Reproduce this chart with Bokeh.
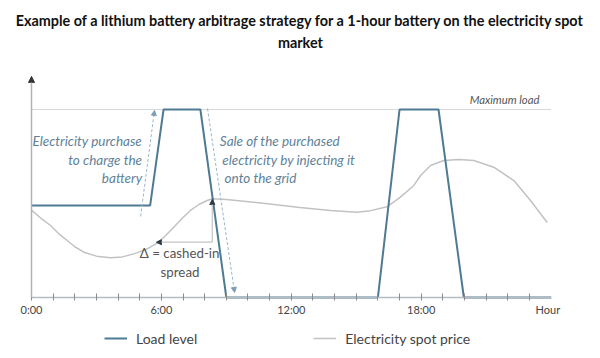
from bokeh.plotting import figure
from bokeh.models import (ColumnDataSource, FixedTicker, Label, Arrow, NormalHead,
                          Legend, LegendItem)
from bokeh.embed import file_html
from bokeh.resources import INLINE

# ---------------- data ----------------
load_hours = [0, 5.48, 6.1, 7.8, 9.0, 16.0, 17.0, 18.8, 19.97, 24]
load_level = [49, 49, 100, 100, 0, 0, 100, 100, 0, 0]

price_hours = [0, 0.45, 0.88, 1.25, 1.65, 2.0, 2.42, 3.0, 3.65, 4.2, 4.73, 5.3, 5.81,
               6.2, 6.57, 6.95, 7.34, 7.75, 8.11, 8.35, 9.0, 10.5, 12.4, 13.8, 15.04,
               15.66, 16.43, 17.04, 17.66, 17.97, 18.43, 19.04, 19.74, 20.43, 21.35,
               22.28, 23.05, 23.82]
price_value = [46.5, 42.0, 38.3, 34.0, 30.3, 27.0, 24.1, 22.0, 21.1, 21.6, 23.2, 25.6, 28.9,
               33.0, 37.4, 42.0, 46.3, 49.6, 51.6, 52.5, 52.1, 50.4, 47.9, 46.3, 45.4,
               46.2, 48.3, 53.4, 59.6, 64.9, 70.2, 72.9, 73.4, 72.9, 69.3,
               62.2, 51.6, 39.9]

max_load = 100
hour_ticks = list(range(0, 24))
label_ticks = [0, 6, 12, 18, 23.85]
label_texts = {0: "0:00", 6: "6:00", 12: "12:00", 18: "18:00", 23.85: "Hour"}

title_lines = ["Example of a lithium battery arbitrage strategy for a 1-hour battery on the electricity spot",
               "market"]

LOAD_C = "#4e7a94"
PRICE_C = "#c2c2c2"
ANN_C = "#5f8299"
DASH_C = "#9bb6c8"
TXT_C = "#444444"

p = figure(frame_width=600, frame_height=358, x_range=(-1.4319, 26.282),
           y_range=(-32.45, 157.98),
           min_border_left=0, min_border_right=0, min_border_top=0, min_border_bottom=0,
           output_backend="svg", toolbar_location=None)
p.outline_line_color = None
p.grid.visible = False
p.yaxis.visible = False
p.background_fill_color = "white"
p.border_fill_color = "white"

xa = p.xaxis[0]
xa.fixed_location = 0
xa.bounds = (0, 24)
xa.ticker = FixedTicker(ticks=label_ticks, minor_ticks=hour_ticks)
xa.major_label_overrides = label_texts
xa.axis_line_color = "#b4bcc2"
xa.axis_line_width = 1.5
xa.major_tick_line_color = None
xa.major_tick_in = 0
xa.major_tick_out = 0
xa.minor_tick_line_color = "#8a8a8a"
xa.minor_tick_in = 4
xa.minor_tick_out = 3
xa.major_label_standoff = 3
xa.major_label_text_font = "Lato"
xa.major_label_text_font_size = "11px"
xa.major_label_text_color = TXT_C

# max load dotted line
p.line(x=[0, 24], y=[max_load, max_load], line_color="#a9b1b7", line_dash="1 1", line_width=1)

# y axis line with arrow
p.add_layout(Arrow(x_start=0, y_start=0, x_end=0, y_end=117.6, line_color="#aab3b9",
                   line_width=1.5, end=NormalHead(size=6, fill_color="#333333",
                                                   line_color="#333333")))

price_src = ColumnDataSource(dict(x=price_hours, y=price_value))
load_src = ColumnDataSource(dict(x=load_hours, y=load_level))
r_price = p.line("x", "y", source=price_src, line_color=PRICE_C, line_width=1.5)
r_load = p.line("x", "y", source=load_src, line_color=LOAD_C, line_width=2)

# dashed arrows (charge / discharge)
p.add_layout(Arrow(x_start=5.04, y_start=43.1, x_end=5.68, y_end=99.5, line_color=DASH_C,
                   line_dash="3 2", line_width=1,
                   end=NormalHead(size=5, fill_color="#7e9fb3", line_color="#7e9fb3")))
p.add_layout(Arrow(x_start=8.13, y_start=100.5, x_end=9.38, y_end=2.7, line_color=DASH_C,
                   line_dash="3 2", line_width=1,
                   end=NormalHead(size=5, fill_color="#7e9fb3", line_color="#7e9fb3")))

# spread bracket
p.add_layout(Arrow(x_start=8.35, y_start=29.4, x_end=8.35, y_end=52.1, line_color="#c4c4c4",
                   line_width=1.2, end=NormalHead(size=5, fill_color="#2b3a44",
                                                  line_color="#2b3a44")))
p.add_layout(Arrow(x_start=8.35, y_start=29.4, x_end=5.77, y_end=29.4, line_color="#c4c4c4",
                   line_width=1.2, end=NormalHead(size=5, fill_color="#2b3a44",
                                                  line_color="#2b3a44")))

def lab(x, y, t, size="13.5px", style="italic", color=ANN_C, align="left", font="Lato"):
    p.add_layout(Label(x=x, y=y, text=t, text_font=font, text_font_size=size,
                       text_font_style=style, text_color=color, text_align=align,
                       text_baseline="middle"))

for t, yy in zip(["Electricity purchase", "to charge the", "battery"], [83.0, 73.4, 63.8]):
    lab(5.11, yy, t, align="right")
for t, xx, yy in zip(["Sale of the purchased", "electricity by injecting it", "onto the grid"],
                     [8.7, 8.81, 8.92], [83.0, 73.4, 63.8]):
    lab(xx, yy, t, align="left")

lab(23.46, 105.3, "Maximum load", size="11.3px", color="#555555", align="right")
lab(6.84, 23.9, "Δ = cashed-in", size="13.3px", style="normal", color="#555555", align="center")
lab(6.86, 13.5, "spread", size="13.3px", style="normal", color="#555555", align="center")

lab(12.42, 147.3, title_lines[0], size="14.4px", style="bold", color="#111111", align="center")
lab(12.42, 135.6, title_lines[1], size="14.4px", style="bold", color="#111111", align="center")

legend = Legend(items=[LegendItem(label="Load level", renderers=[r_load]),
                       LegendItem(label="Electricity spot price", renderers=[r_price])],
                orientation="horizontal", location=(104, 10), glyph_width=23,
                label_standoff=9, spacing=116, padding=2, margin=0,
                border_line_color=None, background_fill_alpha=0,
                label_text_font="Lato", label_text_font_size="14px",
                label_text_color=TXT_C)
p.add_layout(legend, "center")

open("out.html", "w").write(file_html(p, INLINE))
